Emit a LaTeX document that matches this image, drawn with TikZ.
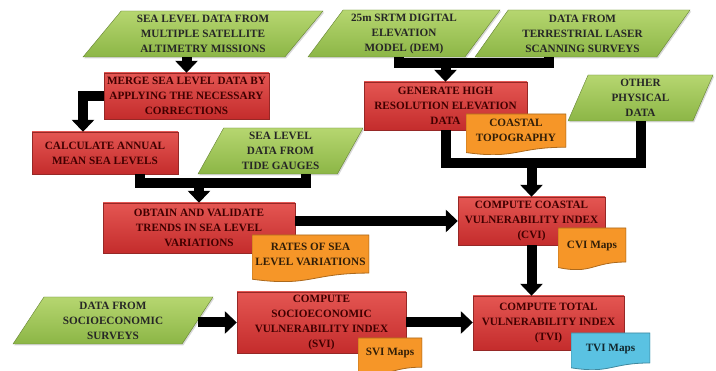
\documentclass[tikz,border=0pt]{standalone}
\usepackage{fontspec}
\setmainfont{Liberation Serif}
\usepackage{tikz}
\usetikzlibrary{shapes.geometric, arrows.meta, positioning, calc, shadows}

\definecolor{redtop}{RGB}{228,86,82}
\definecolor{redbot}{RGB}{196,44,44}
\definecolor{redline}{RGB}{150,40,38}
\definecolor{greentop}{RGB}{182,214,112}
\definecolor{greenbot}{RGB}{140,182,70}
\definecolor{greenline}{RGB}{100,130,50}
\definecolor{orangefill}{RGB}{246,150,40}
\definecolor{cyanfill}{RGB}{90,194,226}

\begin{document}
\begin{tikzpicture}[
    x=1pt, y=-1pt,
    font=\bfseries\fontsize{11.2}{15}\selectfont,
    process/.style={rectangle, draw=redline, top color=redtop, bottom color=redbot, text=red!25!black, align=center, inner sep=1.5pt,
        drop shadow={opacity=0.3, shadow xshift=1.2pt, shadow yshift=-1.5pt}},
    data/.style={trapezium, trapezium left angle=#1, trapezium right angle=\the\numexpr180-#1\relax, trapezium stretches body=true, draw=greenline, top color=greentop, bottom color=greenbot, text=black!85, align=center, inner sep=1pt,
        drop shadow={opacity=0.3, shadow xshift=1.2pt, shadow yshift=-1.5pt}},
    data/.default=50,
    doc/.style={rectangle, align=center, text=#1!20!black, inner sep=1pt, text depth=8pt,
        path picture={\filldraw[fill=#1, draw=#1!70!black, line width=0.8pt]
            let \p1=(path picture bounding box.south west), \p2=(path picture bounding box.north east), \n1={\y2-\y1} in
            (\x1,\y2) -- (\x2,\y2) -- (\x2,{\y1+0.19*\n1})
            .. controls ({0.5*(\x1+\x2)},{\y1+0.19*\n1}) and ({0.5*(\x1+\x2)},{\y1-0.11*\n1}) .. (\x1,{\y1+0.06*\n1}) -- cycle;}},
    doc/.default=orangefill,
    bar/.style={line width=10pt},
    arrow/.style={line width=10pt, -{Triangle[width=22pt, length=12pt]}}
]
\fill[white] (0,0) rectangle (716,371);
\useasboundingbox (0,0) rectangle (716,371);

% Sea level
\node (sat) [data=46, minimum width=240pt, minimum height=46pt] at (203,34) {SEA LEVEL DATA FROM\\MULTIPLE SATELLITE\\ALTIMETRY MISSIONS};
\node (merge) [process, minimum width=165pt, minimum height=46pt] at (186.5,96) {MERGE SEA LEVEL DATA BY\\APPLYING THE NECESSARY\\CORRECTIONS};
\node (annual) [process, minimum width=146pt, minimum height=42pt] at (105,153) {CALCULATE ANNUAL\\MEAN SEA LEVELS};
\node (tide) [data=57, minimum width=165pt, minimum height=46pt] at (280.5,151) {SEA LEVEL\\DATA FROM\\TIDE GAUGES};
\node (trend) [process, minimum width=192pt, minimum height=50pt] at (199,228) {OBTAIN AND VALIDATE\\TRENDS IN SEA LEVEL\\VARIATIONS};
\node (rates) [doc, minimum width=117pt, minimum height=47pt] at (310.5,258.5) {RATES OF SEA\\LEVEL VARIATIONS};

% Elevation
\node (dem) [data, minimum width=192pt, minimum height=47pt] at (404,33.5) {25m SRTM DIGITAL\\ELEVATION\\MODEL (DEM)};
\node (tls) [data, minimum width=215pt, minimum height=47pt] at (582.5,33.5) {DATA FROM\\TERRESTRIAL LASER\\SCANNING SURVEYS};
\node (hires) [process, minimum width=163pt, minimum height=48pt] at (445.5,106) {GENERATE HIGH\\RESOLUTION ELEVATION\\DATA};
\node (topo) [doc, minimum width=100pt, minimum height=41pt] at (516,134.5) {COASTAL\\TOPOGRAPHY};
\node (other) [data=63, minimum width=145pt, minimum height=46pt] at (640.5,98) {OTHER\\PHYSICAL\\DATA};

% CVI
\node (cvi) [process, minimum width=147pt, minimum height=48pt] at (531.5,221) {COMPUTE COASTAL\\VULNERABILITY INDEX\\(CVI)};
\node (cvimap) [doc, minimum width=68pt, minimum height=42pt] at (592,249) {CVI Maps};

% Socioeconomic and TVI
\node (socio) [data=52, minimum width=200pt, minimum height=47pt] at (113,320.5) {DATA FROM\\SOCIOECONOMIC\\SURVEYS};
\node (svi) [process, minimum width=169pt, minimum height=61pt] at (321.5,322.5) {COMPUTE\\SOCIOECONOMIC\\VULNERABILITY INDEX\\(SVI)};
\node (svimap) [doc, minimum width=64pt, minimum height=36pt] at (390,356) {SVI Maps};
\node (tvi) [process, minimum width=151pt, minimum height=54pt] at (548.5,323) {COMPUTE TOTAL\\VULNERABILITY INDEX\\(TVI)};
\node (tvimap) [doc=cyanfill, minimum width=79pt, minimum height=37pt] at (610.5,351.5) {TVI Maps};

% Arrows
\coordinate (jsea) at ($(trend.north)+(0,-20)$);
\coordinate (jdem) at ($(hires.north)+(0,-19)$);
\coordinate (jcvi) at ($(cvi.north)+(0,-34)$);
\draw [arrow] (sat.south -| merge.north) -- (merge.north);
\draw [arrow] (merge.west) -| ([xshift=-22pt]annual.north);
\draw [bar] ([xshift=35pt]annual.south) |- (jsea) -| ([xshift=25pt]tide.south);
\draw [arrow] (jsea) -- (trend.north);
\draw [bar] ([xshift=-5pt]dem.south) |- (jdem) -| ([xshift=-34pt]tls.south);
\draw [arrow] (jdem) -- (hires.north);
\draw [bar] (hires.south) |- (jcvi) -| (other.south);
\draw [arrow] (jcvi) -- (cvi.north);
\draw [arrow] (trend.east |- cvi.west) -- (cvi.west);
\draw [arrow] (cvi.south) -- (cvi.south |- tvi.north);
\draw [arrow] (socio.east |- svi.west) -- (svi.west);
\draw [arrow] (svi.east) -- (tvi.west |- svi.east);

\end{tikzpicture}
\end{document}
